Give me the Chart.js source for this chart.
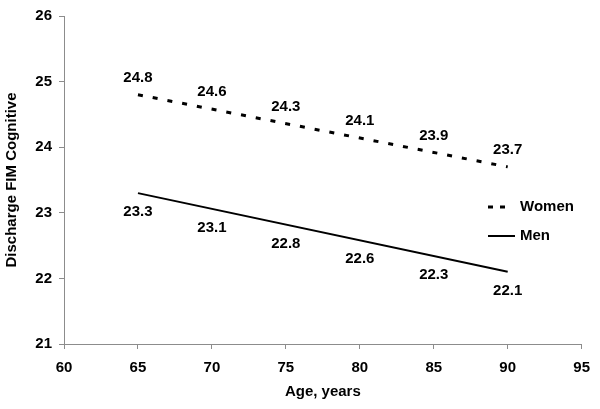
<!DOCTYPE html>
<html>
<head>
<meta charset="utf-8">
<script src="https://cdn.jsdelivr.net/npm/chart.js@4/dist/chart.umd.min.js"></script>
<style>
  html, body { margin: 0; padding: 0; background: #fff; }
  #wrap { width: 600px; height: 409px; }
</style>
</head>
<body>
<div id="wrap"><canvas id="c"></canvas></div>
<script>
// data
var ages = [65, 70, 75, 80, 85, 90];
var women = [24.8, 24.6, 24.3, 24.1, 23.9, 23.7];
var men = [23.3, 23.1, 22.8, 22.6, 22.3, 22.1];
var seriesNames = ["Women", "Men"];
var xTicks = [60, 65, 70, 75, 80, 85, 90, 95];
var yTicks = [21, 22, 23, 24, 25, 26];

var FONT = "'Liberation Sans', Arial, sans-serif";
var AXIS = "#8c8c8c";

// fitted line through first and last age
function trend(vals) {
	var n = ages.length - 1;
	return [{ x: ages[0], y: vals[0] }, { x: ages[n], y: vals[n] }];
}

// value labels, placed on the trend line (above for women, below for men)
var valueLabels = {
	id: "valueLabels",
	afterDatasetsDraw: function (chart) {
		var ctx = chart.ctx;
		var xs = chart.scales.x;
		var sets = [women, men];
		var offs = [-17, 19];
		ctx.save();
		ctx.font = "bold 15px " + FONT;
		ctx.fillStyle = "#000";
		ctx.textAlign = "center";
		ctx.textBaseline = "middle";
		sets.forEach(function (vals, i) {
			var line = chart.getDatasetMeta(i).dataset;
			vals.forEach(function (v, j) {
				var px = xs.getPixelForValue(ages[j]);
				var p = line.interpolate({ x: px }, "x");
				var py = p ? p.y : chart.scales.y.getPixelForValue(v);
				ctx.fillText(v.toFixed(1), px, py + offs[i]);
			});
		});
		ctx.restore();
	}
};

// small legend at the right side
var sideLegend = {
	id: "sideLegend",
	afterDraw: function (chart) {
		var ctx = chart.ctx;
		var x0 = 488, x1 = 515, tx = 520;
		var ys = [207, 236];
		ctx.save();
		chart.data.datasets.forEach(function (ds, i) {
			ctx.strokeStyle = ds.borderColor;
			ctx.lineWidth = ds.borderWidth;
			ctx.setLineDash(ds.borderDash ? [5, 7] : []);
			ctx.beginPath();
			ctx.moveTo(x0, ys[i]);
			ctx.lineTo(ds.borderDash ? 505 : x1, ys[i]);
			ctx.stroke();
			ctx.setLineDash([]);
			ctx.font = "bold 15px " + FONT;
			ctx.fillStyle = "#000";
			ctx.textBaseline = "middle";
			ctx.fillText(ds.label, tx, ys[i]);
		});
		ctx.restore();
	}
};

new Chart(document.getElementById("c"), {
	type: "scatter",
	data: {
		datasets: [
			{ label: seriesNames[0], data: trend(women), showLine: true, borderColor: "#000", borderWidth: 3, borderDash: [5, 10], pointRadius: 0 },
			{ label: seriesNames[1], data: trend(men), showLine: true, borderColor: "#000", borderWidth: 2, pointRadius: 0 }
		]
	},
	options: {
		responsive: true,
		maintainAspectRatio: false,
		animation: false,
		layout: { padding: { top: 13, right: 16, left: 0, bottom: 0 } },
		plugins: { legend: { display: false }, tooltip: { enabled: false } },
		scales: {
			x: {
				type: "linear",
				min: 60, max: 95,
				afterBuildTicks: function (s) { s.ticks = xTicks.map(function (v) { return { value: v }; }); },
				afterFit: function (s) { s.height = 65; },
				grid: { drawOnChartArea: false, color: AXIS, tickLength: 5 },
				border: { color: AXIS, width: 1 },
				ticks: { color: "#000", font: { family: FONT, size: 15, weight: "bold" }, padding: 10, maxRotation: 0 },
				title: { display: true, text: "Age, years", color: "#000", font: { family: FONT, size: 15, weight: "bold" }, padding: { top: 4, bottom: 8 } }
			},
			y: {
				min: 21, max: 26,
				afterBuildTicks: function (s) { s.ticks = yTicks.map(function (v) { return { value: v }; }); },
				afterFit: function (s) { s.width = 64; },
				grid: { drawOnChartArea: false, color: AXIS, tickLength: 5 },
				border: { color: AXIS, width: 1 },
				ticks: { color: "#000", font: { family: FONT, size: 15, weight: "bold" }, padding: 7 },
				title: { display: true, text: "Discharge FIM Cognitive", color: "#000", font: { family: FONT, size: 15, weight: "bold" }, padding: { top: 3, bottom: 0 } }
			}
		}
	},
	plugins: [valueLabels, sideLegend]
});
</script>
</body>
</html>
